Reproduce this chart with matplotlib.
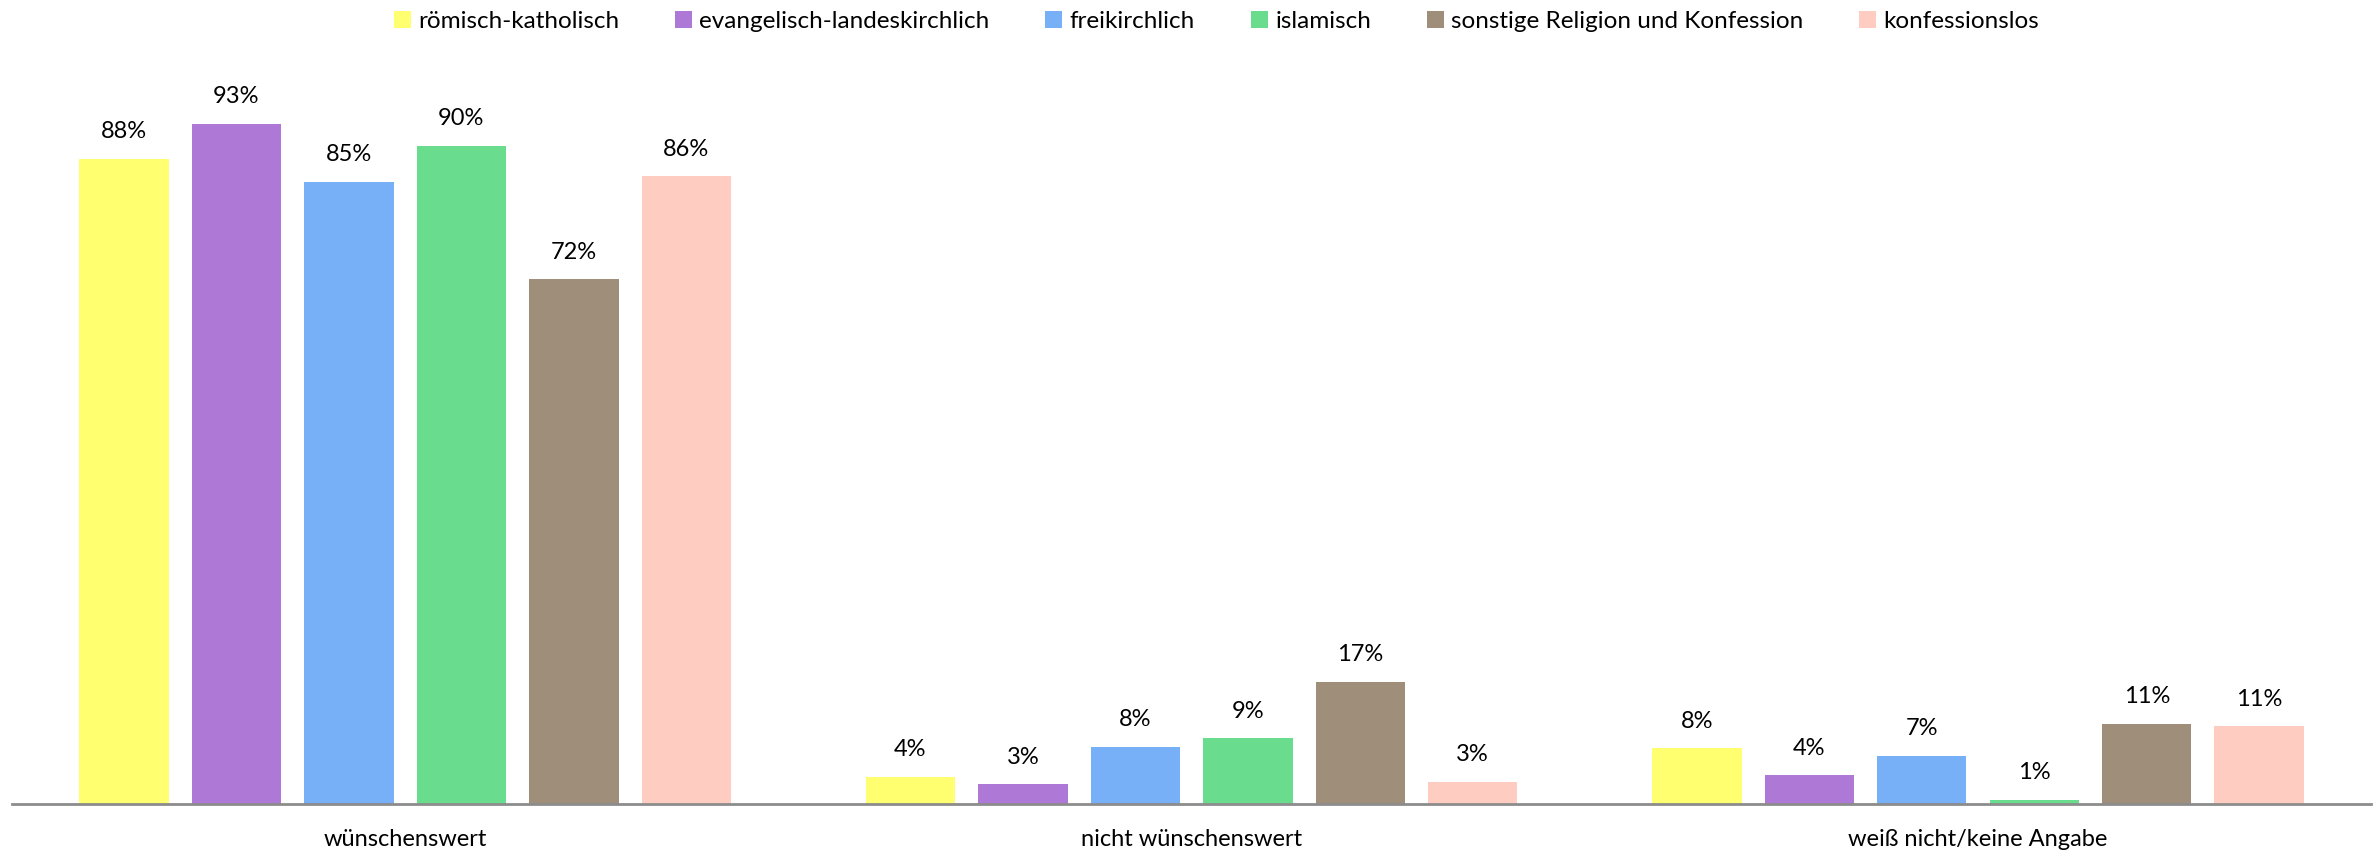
import matplotlib
matplotlib.use("Agg")
import matplotlib.pyplot as plt
import numpy as np

categories = ["wünschenswert", "nicht wünschenswert", "weiß nicht/keine Angabe"]
series = ["römisch-katholisch", "evangelisch-landeskirchlich", "freikirchlich",
          "islamisch", "sonstige Religion und Konfession", "konfessionslos"]
# bar heights (percent)
roem_kath = [88.2, 3.7, 7.6]
evang = [93.0, 2.7, 3.9]
freikirch = [85.0, 7.8, 6.6]
islam = [90.0, 9.0, 0.6]
sonstige = [71.7, 16.7, 11.0]
konfessionslos = [85.8, 3.0, 10.6]
values = [roem_kath, evang, freikirch, islam, sonstige, konfessionslos]
colors = ["#FFFF70", "#AD78D6", "#78B0F8", "#69DC8E", "#9F8F7A", "#FFCCC2"]

plt.rcParams['font.family'] = ['Lato', 'DejaVu Sans']

fig = plt.figure(figsize=(23.76, 8.52), dpi=100)
ax = fig.add_axes([0.005, 0.0563, 0.993, 0.857])

x = np.arange(len(categories))
step = 0.143
width = 0.1137
for i, (name, vals, c) in enumerate(zip(series, values, colors)):
    pos = x + (i - 2.5) * step
    bars = ax.bar(pos, vals, width=width, color=c, label=name, zorder=2)
    for b, v in zip(bars, vals):
        ax.annotate(f"{max(1, round(v)):.0f}%",
                    (b.get_x() + b.get_width() / 2, v),
                    xytext=(0, 12), textcoords="offset points",
                    ha="center", va="bottom", fontsize=17, color="#000000")

ax.set_xlim(-0.5, 2.5)
ax.set_ylim(0, 99.8)
ax.set_xticks(x)
ax.set_xticklabels(categories, fontsize=17)
ax.tick_params(axis="x", length=0, pad=18)
ax.set_yticks([])
for s in ["top", "right", "left"]:
    ax.spines[s].set_visible(False)
ax.spines["bottom"].set_color("#8C8C8C")
ax.spines["bottom"].set_linewidth(2)

fig.legend(loc="center", bbox_to_anchor=(0.512, 0.975), ncol=6, frameon=False,
           fontsize=17.5, handlelength=0.7, handleheight=0.7, handletextpad=0.3,
           columnspacing=2.3)

fig.savefig("out.png", dpi=100)
